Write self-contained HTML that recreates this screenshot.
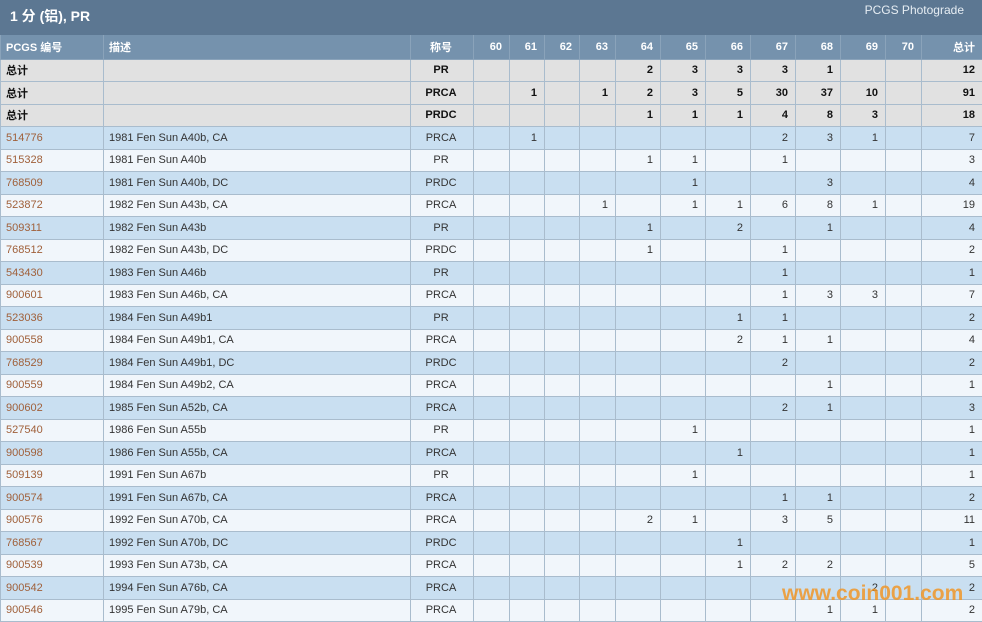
<!DOCTYPE html><html><head><meta charset="utf-8"><style>
body{margin:0;width:982px;height:621px;overflow:hidden;background:#fff;font-family:"Liberation Sans","Noto Sans CJK SC",sans-serif;position:relative}
.t{position:absolute;left:0;top:0;width:982px;height:35px;background:#5c7792;color:#fff}
.t b{position:absolute;left:10px;top:6px;font-size:14px}
.t span{position:absolute;right:18px;top:3px;font-size:12px;color:#e6edf3}
table{position:absolute;left:0;top:35px;border-collapse:collapse;table-layout:fixed;width:982px;font-size:11px}
td{border:1px solid #a9bccd;height:21.5px;padding:0 7px 0 5px;text-align:right;color:#333;white-space:nowrap;overflow:hidden}
tr.h td{background:#7592ad;color:#fff;font-weight:bold;height:23.5px;border-color:#8aa3ba;border-top:none}
tr.s td{background:#e1e1e1;font-weight:bold;color:#111}
tr.a td{background:#c9dff1}
tr.b td{background:#f1f6fb}
td.l{text-align:left}td.c{text-align:center}
td.k{color:#a0603a;text-align:left}
.w{position:absolute;left:782px;top:582px;font-size:21px;font-weight:bold;color:rgba(240,150,40,.85)}
</style></head><body>
<div class="t"><b>1 分 (铝), PR</b><span>PCGS Photograde</span></div>
<table>
<colgroup><col style="width:103px"><col style="width:307px"><col style="width:63px"><col style="width:36px"><col style="width:35px"><col style="width:35px"><col style="width:36px"><col style="width:45px"><col style="width:45px"><col style="width:45px"><col style="width:45px"><col style="width:45px"><col style="width:45px"><col style="width:36px"><col style="width:61px"></colgroup>
<tr class="h"><td class="l">PCGS 编号</td><td class="l">描述</td><td class="c">称号</td><td>60</td><td>61</td><td>62</td><td>63</td><td>64</td><td>65</td><td>66</td><td>67</td><td>68</td><td>69</td><td>70</td><td>总计</td></tr>
<tr class="s"><td class="l">总计</td><td></td><td class="c">PR</td><td></td><td></td><td></td><td></td><td>2</td><td>3</td><td>3</td><td>3</td><td>1</td><td></td><td></td><td>12</td></tr>
<tr class="s"><td class="l">总计</td><td></td><td class="c">PRCA</td><td></td><td>1</td><td></td><td>1</td><td>2</td><td>3</td><td>5</td><td>30</td><td>37</td><td>10</td><td></td><td>91</td></tr>
<tr class="s"><td class="l">总计</td><td></td><td class="c">PRDC</td><td></td><td></td><td></td><td></td><td>1</td><td>1</td><td>1</td><td>4</td><td>8</td><td>3</td><td></td><td>18</td></tr>
<tr class="a"><td class="k">514776</td><td class="l">1981 Fen Sun A40b, CA</td><td class="c">PRCA</td><td></td><td>1</td><td></td><td></td><td></td><td></td><td></td><td>2</td><td>3</td><td>1</td><td></td><td>7</td></tr>
<tr class="b"><td class="k">515328</td><td class="l">1981 Fen Sun A40b</td><td class="c">PR</td><td></td><td></td><td></td><td></td><td>1</td><td>1</td><td></td><td>1</td><td></td><td></td><td></td><td>3</td></tr>
<tr class="a"><td class="k">768509</td><td class="l">1981 Fen Sun A40b, DC</td><td class="c">PRDC</td><td></td><td></td><td></td><td></td><td></td><td>1</td><td></td><td></td><td>3</td><td></td><td></td><td>4</td></tr>
<tr class="b"><td class="k">523872</td><td class="l">1982 Fen Sun A43b, CA</td><td class="c">PRCA</td><td></td><td></td><td></td><td>1</td><td></td><td>1</td><td>1</td><td>6</td><td>8</td><td>1</td><td></td><td>19</td></tr>
<tr class="a"><td class="k">509311</td><td class="l">1982 Fen Sun A43b</td><td class="c">PR</td><td></td><td></td><td></td><td></td><td>1</td><td></td><td>2</td><td></td><td>1</td><td></td><td></td><td>4</td></tr>
<tr class="b"><td class="k">768512</td><td class="l">1982 Fen Sun A43b, DC</td><td class="c">PRDC</td><td></td><td></td><td></td><td></td><td>1</td><td></td><td></td><td>1</td><td></td><td></td><td></td><td>2</td></tr>
<tr class="a"><td class="k">543430</td><td class="l">1983 Fen Sun A46b</td><td class="c">PR</td><td></td><td></td><td></td><td></td><td></td><td></td><td></td><td>1</td><td></td><td></td><td></td><td>1</td></tr>
<tr class="b"><td class="k">900601</td><td class="l">1983 Fen Sun A46b, CA</td><td class="c">PRCA</td><td></td><td></td><td></td><td></td><td></td><td></td><td></td><td>1</td><td>3</td><td>3</td><td></td><td>7</td></tr>
<tr class="a"><td class="k">523036</td><td class="l">1984 Fen Sun A49b1</td><td class="c">PR</td><td></td><td></td><td></td><td></td><td></td><td></td><td>1</td><td>1</td><td></td><td></td><td></td><td>2</td></tr>
<tr class="b"><td class="k">900558</td><td class="l">1984 Fen Sun A49b1, CA</td><td class="c">PRCA</td><td></td><td></td><td></td><td></td><td></td><td></td><td>2</td><td>1</td><td>1</td><td></td><td></td><td>4</td></tr>
<tr class="a"><td class="k">768529</td><td class="l">1984 Fen Sun A49b1, DC</td><td class="c">PRDC</td><td></td><td></td><td></td><td></td><td></td><td></td><td></td><td>2</td><td></td><td></td><td></td><td>2</td></tr>
<tr class="b"><td class="k">900559</td><td class="l">1984 Fen Sun A49b2, CA</td><td class="c">PRCA</td><td></td><td></td><td></td><td></td><td></td><td></td><td></td><td></td><td>1</td><td></td><td></td><td>1</td></tr>
<tr class="a"><td class="k">900602</td><td class="l">1985 Fen Sun A52b, CA</td><td class="c">PRCA</td><td></td><td></td><td></td><td></td><td></td><td></td><td></td><td>2</td><td>1</td><td></td><td></td><td>3</td></tr>
<tr class="b"><td class="k">527540</td><td class="l">1986 Fen Sun A55b</td><td class="c">PR</td><td></td><td></td><td></td><td></td><td></td><td>1</td><td></td><td></td><td></td><td></td><td></td><td>1</td></tr>
<tr class="a"><td class="k">900598</td><td class="l">1986 Fen Sun A55b, CA</td><td class="c">PRCA</td><td></td><td></td><td></td><td></td><td></td><td></td><td>1</td><td></td><td></td><td></td><td></td><td>1</td></tr>
<tr class="b"><td class="k">509139</td><td class="l">1991 Fen Sun A67b</td><td class="c">PR</td><td></td><td></td><td></td><td></td><td></td><td>1</td><td></td><td></td><td></td><td></td><td></td><td>1</td></tr>
<tr class="a"><td class="k">900574</td><td class="l">1991 Fen Sun A67b, CA</td><td class="c">PRCA</td><td></td><td></td><td></td><td></td><td></td><td></td><td></td><td>1</td><td>1</td><td></td><td></td><td>2</td></tr>
<tr class="b"><td class="k">900576</td><td class="l">1992 Fen Sun A70b, CA</td><td class="c">PRCA</td><td></td><td></td><td></td><td></td><td>2</td><td>1</td><td></td><td>3</td><td>5</td><td></td><td></td><td>11</td></tr>
<tr class="a"><td class="k">768567</td><td class="l">1992 Fen Sun A70b, DC</td><td class="c">PRDC</td><td></td><td></td><td></td><td></td><td></td><td></td><td>1</td><td></td><td></td><td></td><td></td><td>1</td></tr>
<tr class="b"><td class="k">900539</td><td class="l">1993 Fen Sun A73b, CA</td><td class="c">PRCA</td><td></td><td></td><td></td><td></td><td></td><td></td><td>1</td><td>2</td><td>2</td><td></td><td></td><td>5</td></tr>
<tr class="a"><td class="k">900542</td><td class="l">1994 Fen Sun A76b, CA</td><td class="c">PRCA</td><td></td><td></td><td></td><td></td><td></td><td></td><td></td><td></td><td></td><td>2</td><td></td><td>2</td></tr>
<tr class="b"><td class="k">900546</td><td class="l">1995 Fen Sun A79b, CA</td><td class="c">PRCA</td><td></td><td></td><td></td><td></td><td></td><td></td><td></td><td></td><td>1</td><td>1</td><td></td><td>2</td></tr>
</table>
<div class="w">www.coin001.com</div>
</body></html>
